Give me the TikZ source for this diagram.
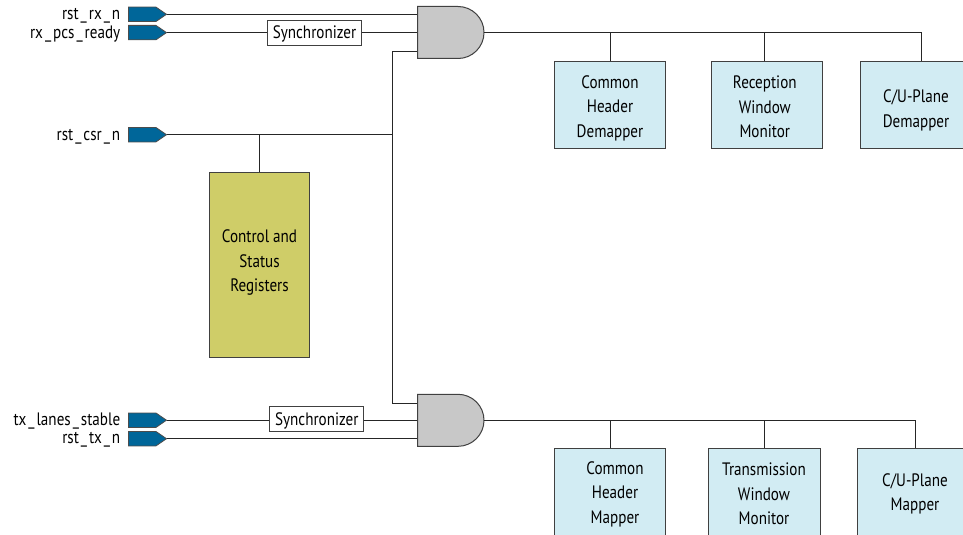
\documentclass[tikz,border=0pt]{standalone}
\usepackage{fontspec}
\setmainfont[FakeStretch=0.84]{PT Sans}
\definecolor{pinblue}{HTML}{006699}
\definecolor{boxblue}{HTML}{D2ECF3}
\definecolor{csrolive}{HTML}{CFCD68}
\definecolor{gategray}{HTML}{C8C8C8}
\definecolor{edgegray}{HTML}{404040}
\newcommand{\us}{\kern1.5pt\_\kern1.5pt}
\tikzset{
  x=0.75pt,y=-0.75pt,
  wire/.style={draw=black!85,line width=0.75pt},
  pinshape/.style={fill=pinblue,draw=black!70,line width=0.6pt},
  gateshape/.style={fill=gategray,draw=edgegray,line width=0.75pt},
  sigtext/.style={anchor=east,inner sep=0pt,font=\fontsize{13.5}{16}\selectfont,text=black},
  blockbox/.style={draw=edgegray,fill=boxblue,line width=0.75pt,minimum width=83.6pt,minimum height=65.6pt,inner sep=0pt},
  csrbox/.style={draw=edgegray,fill=csrolive,line width=0.75pt,minimum width=75pt,minimum height=138.75pt,inner sep=0pt},
  syncbox/.style={draw=edgegray,fill=white,line width=0.75pt,minimum width=70.5pt,minimum height=18.75pt,inner sep=0pt,text height=11pt,text depth=2pt,font=\fontsize{13.5}{16}\selectfont,text=black},
  blocktext/.style={align=center,inner sep=0pt,font=\fontsize{13.5}{18.4}\selectfont,text=black},
}
\newcommand{\inpin}[2]{%
  \draw[pinshape] (128.5,#2-7.2) -- (156,#2-7.2) -- (166.5,#2) -- (156,#2+7.2) -- (128.5,#2+7.2) -- cycle;
  \coordinate (#1) at (166.5,#2);}
\newcommand{\andgate}[2]{% name, top y
  \draw[gateshape] (417.5,#2) -- (458,#2) arc[start angle=-90,end angle=90,x radius=26,y radius=26] -- (417.5,#2+52) -- cycle;
  \coordinate (#1o) at (484,#2+26);}
\begin{document}
\begin{tikzpicture}
\useasboundingbox (0,0) rectangle (963,535);
\clip (0,0) rectangle (963,535);
% input pins and names
\inpin{prx}{14.3}
\inpin{ppcs}{32.6}
\inpin{pcsr}{134.7}
\inpin{ptxs}{420.2}
\inpin{ptx}{438.7}
\node[sigtext] (lrx) at (120.5,15.5) {rst\us rx\us n};
\node[sigtext] (lpcs) at (120.5,34) {rx\us pcs\us ready};
\node[sigtext] (lcsr) at (120.5,137) {rst\us csr\us n};
\node[sigtext] (ltxs) at (120.5,421) {tx\us lanes\us stable};
\node[sigtext] (ltx) at (120.5,440) {rst\us tx\us n};
% gate input points
\coordinate (gairx) at (417.5,14.3);
\coordinate (gapcs) at (417.5,32.6);
\coordinate (gacsr) at (417.5,52);
\coordinate (gbcsr) at (417.5,403);
\coordinate (gbtxs) at (417.5,420.2);
\coordinate (gbtx) at (417.5,438.7);
\coordinate (bus) at (392,134.7);
% boxes
\node[syncbox] (sa) at (314.5,32.6) {Synchronizer};
\node[syncbox] (sb) at (316.8,419.2) {Synchronizer};
\node[csrbox] (csr) at (259.5,264.5) {};
\node[blocktext] (csrt) at (259.5,262.5) {Control and\\Status\\Registers};
\node[blockbox] (b1) at (610.2,105.2) {};
\node[blockbox] (b2) at (766.8,105.2) {};
\node[blockbox] (b3) at (916,105.2) {};
\node[blockbox] (b4) at (610.2,492.2) {};
\node[blockbox] (b5) at (764.5,492.2) {};
\node[blockbox] (b6) at (913.5,492.2) {};
\node[blocktext] (t1) at (610,108) {Common\\Header\\Demapper};
\node[blocktext] (t2) at (764.8,107) {Reception\\Window\\Monitor};
\node[blocktext] (t3) at (916,110.5) {C/U-Plane\\Demapper};
\node[blocktext] (t4) at (615,494) {Common\\Header\\Mapper};
\node[blocktext] (t5) at (764,494) {Transmission\\Window\\Monitor};
\node[blocktext] (t6) at (915,494) {C/U-Plane\\Mapper};
% wires
\draw[wire] (prx) -- (gairx);
\draw[wire] (ppcs) -- (sa) -- (gapcs);
\draw[wire] (ptxs) -- (sb.west |- ptxs);
\draw[wire] (sb.east |- ptxs) -- (gbtxs);
\draw[wire] (ptx) -- (gbtx);
\draw[wire] (pcsr) -- (bus);
\draw[wire] (bus) -- (392,52) -- (gacsr);
\draw[wire] (bus) -- (392,403) -- (gbcsr);
\draw[wire] (259.5,134.7) -- (csr.north);
% gates
\andgate{ga}{6.5}
\andgate{gb}{394.3}
% outputs
\coordinate (ra) at (921,32.5);
\coordinate (rb) at (915.7,420.3);
\draw[wire] (gao) -- (ra) -- (921,61.4);
\draw[wire] (gbo) -- (rb) -- (915.7,448.4);
\draw[wire] (b1.north) -- (610.2,32.5);
\draw[wire] (764.8,61.4) -- (764.8,32.5);
\draw[wire] (b4.north) -- (610.2,420.3);
\draw[wire] (b5.north) -- (764.5,420.3);
\end{tikzpicture}
\end{document}
